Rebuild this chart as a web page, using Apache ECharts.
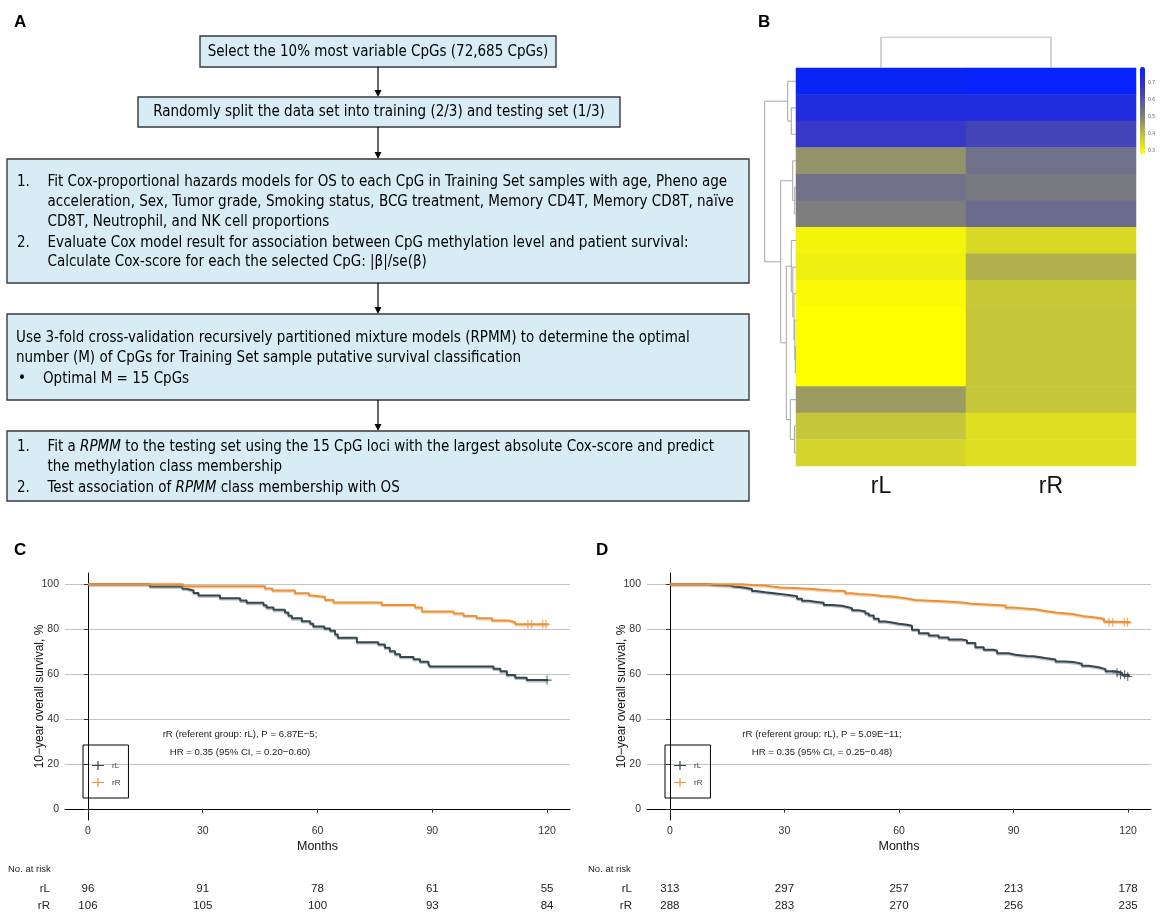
<!DOCTYPE html>
<html><head><meta charset="utf-8">
<script src="https://cdn.jsdelivr.net/npm/echarts@6/dist/echarts.min.js"></script>
<style>html,body{margin:0;padding:0;background:#fff}#c{width:1164px;height:914px}</style>
</head><body><div id="c"></div>
<script>
// ---------------- DATA ----------------
// Panel B heatmap (15 CpGs x 2 classes)
const heatCols = ['rL', 'rR'];
const heatRows = ['cg1','cg2','cg3','cg4','cg5','cg6','cg7','cg8','cg9','cg10','cg11','cg12','cg13','cg14','cg15'];
const heatRL = [0.77, 0.72, 0.67, 0.47, 0.54, 0.51, 0.30, 0.31, 0.29, 0.28, 0.28, 0.28, 0.455, 0.385, 0.36];
const heatRR = [0.78, 0.72, 0.64, 0.54, 0.52, 0.55, 0.35, 0.42, 0.38, 0.385, 0.385, 0.385, 0.385, 0.34, 0.34];
const colorTicks = [0.3, 0.4, 0.5, 0.6, 0.7];
// row dendrogram merges: [childA, childB, height]  (negative = leaf row, positive = earlier merge)
const rowMerges = [
  [-5, -6, 1.3], [-4, 1, 3.3], [-2, -3, 4.7], [-1, 3, 8.3],
  [-14, -15, 1.5], [-13, 5, 5.7], [-11, -12, 0.7], [-10, 7, 1.2],
  [-9, 8, 2.0], [-8, 9, 3.2], [-7, 10, 4.7], [11, 6, 9.7],
  [2, 12, 15.3], [4, 13, 31.3]
];
const colMerges = [[-1, -2, 1]];

// Panels C/D Kaplan-Meier (months, survival %)
const kmTicksX = [0, 30, 60, 90, 120];
const kmTicksY = [0, 20, 40, 60, 80, 100];
const cRL = [[0,100],[16.2,99.0],[24.7,98.0],[25.8,97.2],[27.6,96.1],[28.9,95.0],[34.5,93.8],[39.8,92.7],[41.5,91.7],[45.9,90.6],[46.7,89.6],[48.5,88.6],[51.5,87.4],[52.4,86.0],[53.3,84.8],[55.9,83.5],[58.1,82.4],[58.9,81.2],[61.8,80.3],[63.3,79.3],[64.6,77.6],[65.3,76.2],[70.3,74.2],[75.9,73.2],[77.6,71.7],[78.9,70.2],[80.3,68.8],[81.6,67.6],[85.1,66.6],[86.8,65.5],[89.0,64.4],[89.4,63.4],[106.0,62.4],[107.8,61.2],[109.5,59.6],[111.7,58.4],[114.7,57.3],[120.3,57.3]];
const cRR = [[0,100],[24.9,99.1],[46.3,98.1],[48.2,97.2],[54.1,96.0],[57.8,95.0],[58.6,94.3],[62.0,93.0],[64.2,91.9],[76.8,90.8],[85.5,89.6],[87.3,87.9],[95.6,87.0],[98.2,85.9],[101.6,84.9],[105.6,83.9],[109.9,83.1],[111.7,82.2],[120.4,82.2]];
const cRLcens = [[120, 57.3]];
const cRRcens = [[115.0,82.2],[116.0,82.2],[118.9,82.2],[119.7,82.2]];
const dRL = [[0,100],[10.1,99.7],[11.9,99.4],[15.8,99.0],[16.7,98.7],[18.9,97.9],[21.5,97.0],[22.4,96.4],[25.0,96.1],[26.7,95.7],[28.9,95.0],[32.0,94.7],[33.3,93.5],[34.6,92.6],[36.3,92.1],[38.5,91.7],[40.3,90.8],[42.4,90.4],[45.1,89.9],[46.4,89.3],[47.7,88.4],[49.4,87.9],[51.2,87.0],[52.1,86.1],[53.4,84.6],[54.7,83.4],[56.4,83.0],[58.2,82.4],[59.9,82.1],[61.7,81.5],[63.4,79.7],[65.2,78.2],[67.8,77.2],[70.4,76.3],[73.0,75.4],[76.5,75.0],[77.8,73.8],[80.0,71.9],[82.2,70.8],[84.8,70.4],[85.7,69.3],[88.7,68.6],[90.5,68.0],[93.5,67.9],[95.3,67.1],[98.3,66.5],[101.0,65.6],[103.6,65.2],[106.2,64.6],[107.9,63.7],[109.7,63.0],[112.3,62.2],[114.1,61.2],[116.7,60.6],[118.4,59.7],[120.2,58.9]];
const dRR = [[0,100],[18.9,99.7],[21.5,99.4],[25.0,99.0],[26.7,98.5],[28.9,98.2],[33.7,97.9],[37.2,97.5],[39.8,97.2],[42.4,97.0],[45.9,96.0],[47.7,95.6],[49.4,95.3],[52.9,94.8],[55.5,94.5],[58.2,93.8],[61.7,93.0],[64.3,92.3],[72.6,91.9],[76.5,91.3],[79.1,90.5],[87.9,89.6],[89.6,88.9],[95.7,88.1],[98.3,87.4],[101.0,86.7],[105.4,85.9],[108.0,85.2],[111.5,84.6],[113.7,83.4],[115.0,83.1],[120.6,83.1]];
const dRLcens = [[117.1,60.6],[118.0,59.7],[119.1,59.7],[119.9,58.9]];
const dRRcens = [[115.0,83.1],[116.0,83.1],[119.0,83.1],[119.8,83.1]];
// Numbers at risk
const riskTimes = [0, 30, 60, 90, 120];
const riskGroups = ['rL', 'rR'];
const cRiskRL = [96, 91, 78, 61, 55];
const cRiskRR = [106, 105, 100, 93, 84];
const dRiskRL = [313, 297, 257, 213, 178];
const dRiskRR = [288, 283, 270, 256, 235];
const annoC = ['rR (referent group: rL), P = 6.87E\u22125;', 'HR = 0.35 (95% CI, = 0.20\u22120.60)'];
const annoD = ['rR (referent group: rL), P = 5.09E\u221211;', 'HR = 0.35 (95% CI, = 0.25\u22120.48)'];

// ---------------- HELPERS ----------------
const COL_L = '#33474f', COL_R = '#e8913a';
const PLOT_FONT = '"Liberation Sans", Arial, sans-serif';
const FLOW_FONT = '"Liberation Sans Narrow", "DejaVu Sans Condensed", sans-serif';
const FS = 15;
const crossPath = 'path://M4.4,0h1.2v4.4h4.4v1.2h-4.4v4.4h-1.2v-4.4h-4.4v-1.2h4.4z';

function dendro(merges, leafPos, rowwise) {
  const pos = [], hgt = [], segs = [];
  const get = k => k < 0 ? [leafPos(-k), 0] : [pos[k - 1], hgt[k - 1]];
  merges.forEach(m => {
    const [pa, ha] = get(m[0]); const [pb, hb] = get(m[1]);
    pos.push((pa + pb) / 2); hgt.push(m[2]);
    let pts = [[ha, pa], [m[2], pa], [m[2], pb], [hb, pb]];
    if (!rowwise) pts = pts.map(p => [p[1], p[0]]);
    segs.push({ coords: pts });
  });
  return segs;
}
const heatData = [];
heatRows.forEach((r, i) => { heatData.push([0, i, heatRL[i]]); heatData.push([1, i, heatRR[i]]); });

function riskData(arr) { return riskTimes.map((t, i) => [t, arr[i]]); }

// ---------------- GRIDS ----------------
const grids = [
  { left: 796, top: 68, width: 340, height: 398 },       // 0 heatmap
  { left: 764, top: 68, width: 32, height: 398 },        // 1 row dendro
  { left: 796, top: 37, width: 340, height: 31 },        // 2 col dendro
  { left: 65, top: 573, width: 505, height: 247 },       // 3 KM C
  { left: 647, top: 573, width: 504, height: 247 },      // 4 KM D
  { left: 65, top: 880, width: 505, height: 34 },        // 5 risk C
  { left: 647, top: 880, width: 504, height: 34 },       // 6 risk D
  { left: 1140, top: 67, width: 5, height: 87 },         // 7 colorbar axis
  { left: 65, top: 584.227, width: 505, height: 224.545 },  // 8 gridlines C
  { left: 647, top: 584.227, width: 504, height: 224.545 }  // 9 gridlines D
];

const hidden = (gi, extra) => Object.assign({ gridIndex: gi, type: 'value', show: false }, extra || {});

function kmX(gi) {
  return {
    gridIndex: gi, type: 'value', min: -6, max: 126,
    axisLine: { show: true, lineStyle: { color: '#000', width: 1 } },
    axisTick: { show: true, length: 4, customValues: kmTicksX, lineStyle: { color: '#333' } },
    axisLabel: { customValues: kmTicksX, fontSize: 10.5, color: '#333', fontFamily: PLOT_FONT, margin: 6 },
    splitLine: { show: false },
    name: 'Months', nameLocation: 'middle', nameGap: 20, nameMoveOverlap: false,
    nameTextStyle: { fontSize: 12.5, color: '#111', fontFamily: PLOT_FONT }
  };
}
function kmY(gi) {
  return {
    gridIndex: gi, type: 'value', min: -5, max: 105,
    axisLine: { show: true, lineStyle: { color: '#000', width: 1 } },
    axisTick: { show: true, length: 4, customValues: kmTicksY, lineStyle: { color: '#333' } },
    axisLabel: { customValues: kmTicksY, fontSize: 10.5, color: '#333', fontFamily: PLOT_FONT, margin: 6 },
    splitLine: { show: false },
    name: '10\u2212year overall survival, %', nameLocation: 'middle', nameGap: 19, nameMoveOverlap: false,
    nameTextStyle: { fontSize: 12, color: '#111', fontFamily: PLOT_FONT }
  };
}
function gridLineY(gi) {
  return {
    gridIndex: gi, type: 'value', min: 0, max: 100, interval: 20,
    axisLine: { show: false }, axisTick: { show: false }, axisLabel: { show: false },
    splitLine: { show: true, lineStyle: { color: '#c4c4c4', width: 1 } }
  };
}
function riskY(gi) {
  return {
    gridIndex: gi, type: 'category', data: riskGroups, inverse: true,
    axisLine: { show: false }, axisTick: { show: false },
    axisLabel: { fontSize: 11.5, color: '#222', fontFamily: PLOT_FONT, margin: 15 }
  };
}

const xAxes = [
  { gridIndex: 0, type: 'category', data: heatCols, axisLine: { show: false }, axisTick: { show: false },
    axisLabel: { fontSize: 23, color: '#111', fontFamily: PLOT_FONT, margin: 9 } },
  hidden(1, { min: 0, max: 32, inverse: true }),
  hidden(2, { min: 0, max: 2 }),
  kmX(3), kmX(4),
  hidden(5, { min: -6, max: 126 }), hidden(6, { min: -6, max: 126 }),
  hidden(7, { min: 0, max: 1 }),
  hidden(8, { min: 0, max: 1 }), hidden(9, { min: 0, max: 1 })
];
const yAxes = [
  { gridIndex: 0, type: 'category', data: heatRows, inverse: true, show: false },
  hidden(1, { min: 0, max: 15, inverse: true }),
  hidden(2, { min: 0, max: 1 }),
  kmY(3), kmY(4),
  riskY(5), riskY(6),
  { gridIndex: 7, type: 'value', min: 0.28, max: 0.79, position: 'right',
    axisLine: { show: false }, axisTick: { show: false }, splitLine: { show: false },
    axisLabel: { customValues: colorTicks, fontSize: 5, color: '#666', margin: 3, fontFamily: PLOT_FONT } },
  gridLineY(8), gridLineY(9)
];

function kmLine(name, data, color, halo, axis) {
  return { name, type: 'line', step: 'end', data, xAxisIndex: axis, yAxisIndex: axis, showSymbol: false,
    lineStyle: { color, width: 2, shadowColor: halo, shadowBlur: 0, shadowOffsetY: 1.3 },
    itemStyle: { color }, z: 3, silent: true };
}
function censor(name, data, color, axis) {
  return { name, type: 'scatter', data, xAxisIndex: axis, yAxisIndex: axis, symbol: crossPath,
    symbolSize: 9, itemStyle: { color }, z: 4, silent: true };
}
function risk(name, data, axis, group) {
  return { name, type: 'scatter', xAxisIndex: axis, yAxisIndex: axis, symbolSize: 1,
    itemStyle: { color: '#ffffff', opacity: 1 }, silent: true,
    data: data.map(d => [d[0], group, d[1]]),
    label: { show: true, position: 'inside', formatter: p => String(p.value[2]),
      fontSize: 11.5, color: '#1a1a1a', opacity: 1, fontFamily: PLOT_FONT } };
}

const HALO_L = 'rgba(51,71,79,0.35)', HALO_R = 'rgba(232,145,58,0.4)';
const series = [
  { name: 'heat', type: 'heatmap', xAxisIndex: 0, yAxisIndex: 0, data: heatData, silent: true },
  { name: 'rowDendro', type: 'lines', coordinateSystem: 'cartesian2d', xAxisIndex: 1, yAxisIndex: 1, polyline: true,
    data: dendro(rowMerges, k => k - 0.5, true), lineStyle: { color: '#a6a6a6', width: 1, opacity: 1 }, silent: true },
  { name: 'colDendro', type: 'lines', coordinateSystem: 'cartesian2d', xAxisIndex: 2, yAxisIndex: 2, polyline: true,
    data: dendro(colMerges, k => k - 0.5, false), lineStyle: { color: '#a6a6a6', width: 1, opacity: 1 }, silent: true },
  kmLine('rL', cRL, COL_L, HALO_L, 3), kmLine('rR', cRR, COL_R, HALO_R, 3),
  censor('rL cens C', cRLcens, COL_L, 3), censor('rR cens C', cRRcens, COL_R, 3),
  kmLine('rL', dRL, COL_L, HALO_L, 4), kmLine('rR', dRR, COL_R, HALO_R, 4),
  censor('rL cens D', dRLcens, COL_L, 4), censor('rR cens D', dRRcens, COL_R, 4),
  risk('riskC rL', riskData(cRiskRL), 5, 'rL'), risk('riskC rR', riskData(cRiskRR), 5, 'rR'),
  risk('riskD rL', riskData(dRiskRL), 6, 'rL'), risk('riskD rR', riskData(dRiskRR), 6, 'rR')
];

const legendIcon = 'path://M0,5.2h16v1.6h-16z M7.2,0h1.6v12h-1.6z';
function legendAt(left) {
  return { data: ['rL', 'rR'], left, top: 745, orient: 'vertical', icon: legendIcon,
    itemWidth: 14, itemHeight: 9, itemGap: 8, padding: [16, 8, 11, 9],
    borderColor: '#000', borderWidth: 1, selectedMode: false,
    textStyle: { fontSize: 8, color: '#333', fontFamily: PLOT_FONT, padding: [0, 0, 0, 2] } };
}

// ---------------- FLOWCHART (panel A) ----------------
const g = [];
function txt(x, y, text, opt) {
  opt = opt || {};
  const size = opt.size || FS;
  const st = { text, x: 0, y: 0, font: (opt.bold ? 'bold ' : '') + size + 'px ' + (opt.family || FLOW_FONT),
    fill: opt.fill || '#000', textAlign: opt.align || 'left', align: opt.align || 'left',
    textVerticalAlign: 'middle', verticalAlign: 'middle' };
  if (opt.rich) st.rich = opt.rich;
  g.push({ type: 'text', x, y, style: st, silent: true });
}
function box(x, y, w, h) {
  g.push({ type: 'rect', shape: { x, y, width: w, height: h }, style: { fill: '#d8ecf5', stroke: '#3a3a3a', lineWidth: 1.4 }, silent: true });
}
function arrow(x, y1, y2) {
  g.push({ type: 'line', shape: { x1: x, y1, x2: x, y2: y2 - 6 }, style: { stroke: '#000', lineWidth: 1.2 }, silent: true });
  g.push({ type: 'polygon', shape: { points: [[x - 3.5, y2 - 7], [x + 3.5, y2 - 7], [x, y2]] }, style: { fill: '#000' }, silent: true });
}
const italicRich = { i: { fontStyle: 'italic', fontSize: FS, fontFamily: FLOW_FONT, fill: '#000' },
                     n: { fontSize: FS, fontFamily: FLOW_FONT, fill: '#000' } };
box(200, 36, 356, 31); txt(378, 52, 'Select the 10% most variable CpGs (72,685 CpGs)', { align: 'center' });
arrow(378, 67, 97);
box(138, 97, 482, 30); txt(379, 112, 'Randomly split the data set into training (2/3) and testing set (1/3)', { align: 'center' });
arrow(378, 127, 159);
box(7, 159, 742, 124);
txt(17, 182, '1.'); txt(47.5, 182, 'Fit Cox-proportional hazards models for OS to each CpG in Training Set samples with age, Pheno age');
txt(47.5, 202, 'acceleration, Sex, Tumor grade, Smoking status, BCG treatment, Memory CD4T, Memory CD8T, na\u00efve');
txt(47.5, 222, 'CD8T, Neutrophil, and NK cell proportions');
txt(17, 243, '2.'); txt(47.5, 243, 'Evaluate Cox model result for association between CpG methylation level and patient survival:');
txt(47.5, 262, 'Calculate Cox-score for each the selected CpG: |\u03b2|/se(\u03b2)');
arrow(378, 283, 314);
box(7, 314, 742, 86);
txt(16, 338, 'Use 3-fold cross-validation recursively partitioned mixture models (RPMM) to determine the optimal');
txt(16, 358, 'number (M) of CpGs for Training Set sample putative survival classification');
txt(18, 379, '\u2022'); txt(43, 379, 'Optimal M = 15 CpGs');
arrow(378, 400, 431);
box(7, 431, 742, 70);
txt(17, 447, '1.'); txt(47.5, 447, '{n|Fit a }{i|RPMM}{n| to the testing set using the 15 CpG loci with the largest absolute Cox-score and predict}', { rich: italicRich });
txt(47.5, 467, 'the methylation class membership');
txt(17, 488, '2.'); txt(47.5, 488, '{n|Test association of }{i|RPMM}{n| class membership with OS}', { rich: italicRich });

// panel letters
[['A', 14, 22], ['B', 758, 22], ['C', 14, 550], ['D', 596, 550]].forEach(l =>
  txt(l[1], l[2], l[0], { bold: true, size: 17, family: PLOT_FONT }));
// KM annotations
[[annoC, 240], [annoD, 822]].forEach(a => {
  txt(a[1], 734.5, a[0][0], { align: 'center', size: 9.6, family: PLOT_FONT, fill: '#1a1a1a' });
  txt(a[1], 752, a[0][1], { align: 'center', size: 9.6, family: PLOT_FONT, fill: '#1a1a1a' });
});
txt(8, 869, 'No. at risk', { size: 9.5, family: PLOT_FONT, fill: '#222' });
txt(588, 869, 'No. at risk', { size: 9.5, family: PLOT_FONT, fill: '#222' });

const option = {
  animation: false,
  backgroundColor: '#fff',
  grid: grids,
  xAxis: xAxes,
  yAxis: yAxes,
  visualMap: {
    type: 'continuous', seriesIndex: 0, min: 0.28, max: 0.79, calculable: false,
    left: 1140, top: 67, itemWidth: 5, itemHeight: 87, padding: 0, text: null, showLabel: false,
    hoverLink: false,
    inRange: { color: ['#ffff00', '#c8c838', '#8a8a72', '#5a5aa0', '#3030d0', '#0022ff'] }
  },
  legend: [legendAt(83), legendAt(665)],
  graphic: { elements: g },
  series
};
const chart = echarts.init(document.getElementById('c'), null, { renderer: 'canvas' });
chart.setOption(option);
</script></body></html>
